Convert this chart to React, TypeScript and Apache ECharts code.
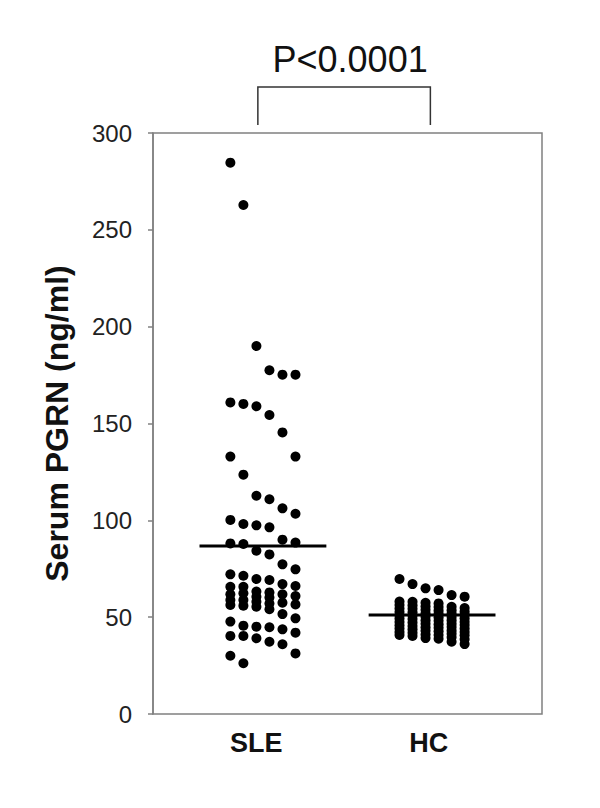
import React, { useEffect, useRef } from "react";
import * as echarts from "echarts";

const categories = ["SLE", "HC"];
const categoryCenters = [1, 2];
const labelPositions = [0.96, 1.98];
const bracketEnds = [0.97, 1.99];
const pValueText = "P<0.0001";
const yTicks = [0, 50, 100, 150, 200, 250, 300];
const yTitle = "Serum PGRN (ng/ml)";

// column offsets (in column-steps) for the dot plot
const columnOffsets = [-2.5, -1.5, -0.5, 0.5, 1.5, 2.5];

const sleColumns: number[][] = [
  [284.7, 160.9, 132.9, 100.2, 88.1, 72.1, 65.7, 61.8, 58.9, 56.3, 47.7, 40.3, 30.1],
  [262.8, 160.1, 123.6, 98.1, 87.8, 71.4, 65.7, 62.3, 58.9, 55.9, 45.6, 40.3, 26.2],
  [190.0, 158.9, 112.7, 97.4, 84.3, 69.7, 63.2, 60.6, 58.0, 55.4, 45.1, 39.1],
  [177.5, 154.4, 110.9, 96.4, 82.4, 69.2, 62.8, 60.2, 57.1, 54.1, 44.8, 37.3],
  [175.2, 145.4, 106.2, 90.0, 77.3, 67.1, 61.8, 57.5, 51.6, 43.7, 36.0],
  [175.2, 132.9, 103.4, 88.5, 74.7, 66.1, 60.9, 56.6, 49.4, 42.0, 31.3],
];

const hcColumns: number[][] = [
  [69.7, 58.1, 56.3, 54.5, 52.7, 51.0, 49.3, 47.5, 45.8, 44.1, 42.4, 40.8],
  [67.1, 57.9, 56.1, 54.3, 52.5, 50.8, 49.0, 47.2, 45.5, 43.7, 42.0, 40.3],
  [64.9, 57.4, 55.6, 53.8, 52.0, 50.2, 48.4, 46.6, 44.8, 43.0, 41.1, 39.2],
  [64.0, 57.1, 55.3, 53.5, 51.7, 49.9, 48.1, 46.3, 44.5, 42.7, 40.8, 38.9],
  [61.4, 55.4, 53.6, 51.9, 50.1, 48.4, 46.6, 44.9, 43.1, 41.4, 39.6, 37.3],
  [60.6, 54.7, 52.9, 51.2, 49.4, 47.6, 45.9, 44.1, 42.3, 40.6, 38.6, 36.1],
];

const groupMeans = [86.7, 51.1];

const COL_STEP = 0.077;
const MEAN_HALF = 0.375;
const FONT = "'Liberation Sans', Arial, Helvetica, sans-serif";

function toPoints(cols: number[][], center: number): number[][] {
  const pts: number[][] = [];
  cols.forEach((col, i) => {
    col.forEach((v) => pts.push([center + columnOffsets[i] * COL_STEP, v]));
  });
  return pts;
}

export default function App() {
  const ref = useRef<HTMLDivElement>(null);

  useEffect(() => {
    if (!ref.current) return;
    const chart = echarts.init(ref.current, undefined, { renderer: "svg" });

    const meanSeries = groupMeans.map((m, i) => ({
      type: "line",
      data: [
        [categoryCenters[i] - MEAN_HALF, m],
        [categoryCenters[i] + MEAN_HALF, m],
      ],
      symbol: "none",
      lineStyle: { color: "#000", width: 3 },
      z: 5,
      silent: true,
    }));

    chart.setOption({
      animation: false,
      backgroundColor: "#fff",
      grid: {
        left: 153,
        right: 58,
        top: 133,
        bottom: 94,
        show: true,
        borderColor: "#808080",
        borderWidth: 1.5,
        backgroundColor: "transparent",
      },
      xAxis: {
        type: "value",
        min: 0.35,
        max: 2.65,
        show: false,
      },
      yAxis: {
        type: "value",
        min: yTicks[0],
        max: yTicks[yTicks.length - 1],
        interval: 50,
        name: yTitle,
        nameLocation: "middle",
        nameGap: 80,
        nameTextStyle: {
          fontFamily: FONT,
          fontSize: 32,
          fontWeight: "bold",
          color: "#111",
        },
        axisLine: { show: true, lineStyle: { color: "#808080", width: 1.5 } },
        axisTick: { show: true, length: 5, lineStyle: { color: "#808080", width: 1.5 } },
        splitLine: { show: false },
        axisLabel: {
          fontFamily: FONT,
          fontSize: 24,
          color: "#222",
          margin: 21,
        },
      },
      series: [
        {
          type: "scatter",
          data: toPoints(sleColumns, categoryCenters[0]),
          symbolSize: 10,
          itemStyle: { color: "#000", opacity: 1 },
          z: 4,
        },
        {
          type: "scatter",
          data: toPoints(hcColumns, categoryCenters[1]),
          symbolSize: 10,
          itemStyle: { color: "#000", opacity: 1 },
          z: 4,
        },
        ...meanSeries,
      ],
    });

    const px = (x: number) =>
      (chart.convertToPixel({ xAxisIndex: 0, yAxisIndex: 0 }, [x, 0]) as number[])[0];

    const bx0 = px(bracketEnds[0]);
    const bx1 = px(bracketEnds[1]);
    const bracketTop = 87;
    const bracketBottom = 125;

    chart.setOption({
      graphic: [
        {
          type: "polyline",
          shape: {
            points: [
              [bx0, bracketBottom],
              [bx0, bracketTop],
              [bx1, bracketTop],
              [bx1, bracketBottom],
            ],
          },
          style: { stroke: "#333", lineWidth: 1.5, fill: "none" },
        },
        {
          type: "text",
          x: (bx0 + bx1) / 2 + 6,
          y: 59,
          style: {
            text: pValueText,
            fontFamily: FONT,
            fontSize: 36,
            fill: "#111",
            align: "center",
            verticalAlign: "middle",
          },
        },
        ...categories.map((c, i) => ({
          type: "text",
          x: px(labelPositions[i]),
          y: 743,
          style: {
            text: c,
            fontFamily: FONT,
            fontSize: 27,
            fontWeight: "bold",
            fill: "#111",
            align: "center",
            verticalAlign: "middle",
          },
        })),
      ],
    });

    return () => chart.dispose();
  }, []);

  return (
    <div
      ref={ref}
      style={{ position: "absolute", left: 0, top: 0, width: 600, height: 808 }}
    />
  );
}
